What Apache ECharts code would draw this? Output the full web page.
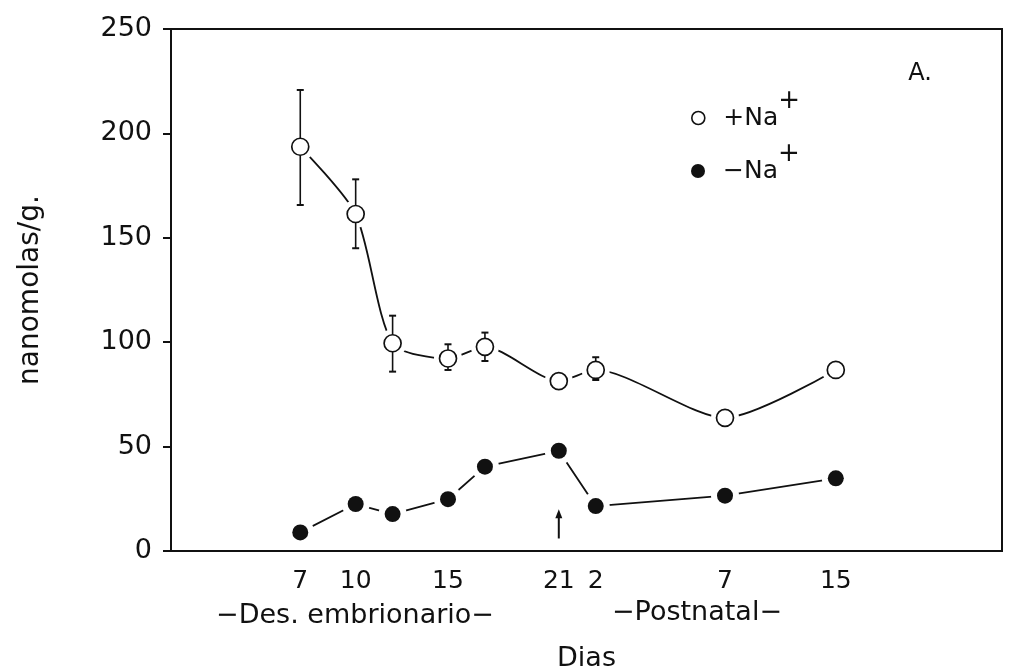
<!DOCTYPE html>
<html>
<head>
<meta charset="utf-8">
<script src="https://cdn.jsdelivr.net/npm/echarts@6/dist/echarts.min.js"></script>
<style>
html,body{margin:0;padding:0;background:#fff;}
#c{width:1019px;height:672px;}
</style>
</head>
<body>
<div id="c"></div>
<script>
// Position of each sample on the time axis (embryonic day 21 = hatching; postnatal days follow)
const xPos = [7, 10, 12, 15, 17, 21, 23, 30, 36];
// +Na+ series (mean) and error bar limits
const plusNa = [193.6, 161.4, 99.5, 92.2, 97.8, 81.4, 86.7, 63.8, 86.7];
const plusNaHigh = [220.8, 178.0, 112.7, 99.0, 104.6, null, 92.8, null, null];
const plusNaLow = [165.7, 145.0, 85.9, 86.7, 91.0, null, 81.9, null, null];
// -Na+ series
const minusNa = [8.9, 22.5, 17.7, 24.8, 40.4, 48.0, 21.5, 26.5, 34.8];
// x tick positions and their labels
const xTickPos = [7, 10, 15, 21, 23, 30, 36];
const xTickText = ['7', '10', '15', '21', '2', '7', '15'];
// y ticks
const yMin = 0, yMax = 250, yStep = 50;
// arrow marking hatching: [x, from value, to value]
const arrowData = [[21, 6, 20]];

const FONT = 'DejaVu Sans';
const INK = '#111';

const plusData = xPos.map((x, i) => [x, plusNa[i]]);
const minusData = xPos.map((x, i) => [x, minusNa[i]]);
const errData = [];
xPos.forEach((x, i) => {
  if (plusNaHigh[i] != null) errData.push([x, plusNaLow[i], plusNaHigh[i]]);
});
const allData = plusData.concat(minusData);

const chart = echarts.init(document.getElementById('c'), null, {renderer: 'canvas'});

function legendFor(name, top, icon, itemStyle, h) {
  return {
    data: [{name: name, icon: icon, itemStyle: itemStyle}],
    left: 691, top: top, padding: 0,
    itemWidth: 40, itemHeight: h,
    selectedMode: false,
    formatter: n => '{m|' + n + '}{s|+}',
    textStyle: {
      rich: {
        m: {fontFamily: FONT, fontSize: 25, color: INK, lineHeight: 60, verticalAlign: 'middle'},
        s: {fontFamily: FONT, fontSize: 26, color: INK, lineHeight: 26, verticalAlign: 'top'}
      }
    }
  };
}

const option = {
  backgroundColor: '#fff',
  animation: false,
  grid: {left: 171, top: 29, right: 17, bottom: 121, outerBoundsMode: 'none', containLabel: false,
         show: true, borderColor: INK, borderWidth: 2, backgroundColor: 'transparent'},
  legend: [
    legendFor('+Na', 88, 'circle', {color: '#fff', borderColor: INK, borderWidth: 1.6}, 13),
    legendFor('\u2212Na', 141, 'circle', {color: INK, borderWidth: 0}, 14)
  ],
  xAxis: {
    type: 'value', min: 0, max: 45,
    name: 'Dias', nameLocation: 'middle', nameGap: 94,
    nameTextStyle: {fontFamily: FONT, fontSize: 27, color: INK},
    axisLine: {show: true, lineStyle: {color: INK, width: 2}},
    axisTick: {show: false},
    splitLine: {show: false},
    axisLabel: {
      customValues: xTickPos,
      margin: 18,
      fontFamily: FONT, fontSize: 25, color: INK,
      formatter: v => { const k = xTickPos.indexOf(v); return k >= 0 ? xTickText[k] : ''; }
    }
  },
  yAxis: {
    type: 'value', min: yMin, max: yMax, interval: yStep,
    name: 'nanomolas/g.', nameLocation: 'middle', nameGap: 126, nameRotate: 90,
    nameTextStyle: {fontFamily: FONT, fontSize: 28, color: INK},
    axisLine: {show: true, lineStyle: {color: INK, width: 2}},
    axisTick: {show: true, inside: false, length: 8, lineStyle: {color: INK, width: 2}},
    splitLine: {show: false},
    axisLabel: {margin: 19, fontFamily: FONT, fontSize: 27, color: INK}
  },
  graphic: [
    {type: 'text', x: 920, y: 74, style: {text: 'A.', font: '24px "DejaVu Sans"', fill: INK, align: 'center', verticalAlign: 'middle'}},
    {type: 'text', x: 355, y: 616, style: {text: '\u2212Des. embrionario\u2212', font: '27px "DejaVu Sans"', fill: INK, align: 'center', verticalAlign: 'middle'}},
    {type: 'text', x: 697, y: 613, style: {text: '\u2212Postnatal\u2212', font: '27px "DejaVu Sans"', fill: INK, align: 'center', verticalAlign: 'middle'}}
  ],
  series: [
    {
      name: 'plusLine', type: 'line', data: plusData, smooth: 0.25,
      showSymbol: false, symbol: 'none',
      lineStyle: {color: INK, width: 1.8}, z: 2, silent: true
    },
    {
      name: 'minusLine', type: 'line', data: minusData, smooth: false,
      showSymbol: false, symbol: 'none',
      lineStyle: {color: INK, width: 1.8}, z: 2, silent: true
    },
    {
      name: 'arrow', type: 'custom', data: arrowData, z: 4, silent: true,
      renderItem: function (params, api) {
        const x = api.value(0);
        const p0 = api.coord([x, api.value(1)]);
        const p1 = api.coord([x, api.value(2)]);
        const hw = 3.5, hl = 9;
        return {
          type: 'group',
          children: [
            {type: 'line', shape: {x1: p0[0], y1: p0[1], x2: p1[0], y2: p1[1] + hl - 1}, style: {stroke: INK, lineWidth: 2}},
            {type: 'polygon', shape: {points: [[p1[0], p1[1]], [p1[0] - hw, p1[1] + hl], [p1[0] + hw, p1[1] + hl]]}, style: {fill: INK}}
          ]
        };
      }
    },
    {
      name: 'halo', type: 'scatter', data: allData, symbol: 'circle', symbolSize: 28,
      itemStyle: {color: '#fff', opacity: 1}, z: 3, silent: true
    },
    {
      name: 'err', type: 'custom', data: errData, z: 4, silent: true,
      renderItem: function (params, api) {
        const x = api.value(0);
        const pLo = api.coord([x, api.value(1)]);
        const pHi = api.coord([x, api.value(2)]);
        const w = 3.5;
        return {
          type: 'group',
          children: [
            {type: 'line', shape: {x1: pLo[0], y1: pLo[1], x2: pHi[0], y2: pHi[1]}, style: {stroke: INK, lineWidth: 1.6}},
            {type: 'line', shape: {x1: pHi[0] - w, y1: pHi[1], x2: pHi[0] + w, y2: pHi[1]}, style: {stroke: INK, lineWidth: 2}},
            {type: 'line', shape: {x1: pLo[0] - w, y1: pLo[1], x2: pLo[0] + w, y2: pLo[1]}, style: {stroke: INK, lineWidth: 2}}
          ]
        };
      }
    },
    {
      name: '+Na', type: 'scatter', data: plusData, symbol: 'circle', symbolSize: 17,
      itemStyle: {color: '#fff', borderColor: INK, borderWidth: 1.7, opacity: 1}, z: 5
    },
    {
      name: '\u2212Na', type: 'scatter', data: minusData, symbol: 'circle', symbolSize: 16,
      itemStyle: {color: INK, opacity: 1}, z: 5
    }
  ]
};
chart.setOption(option);
</script>
</body>
</html>
